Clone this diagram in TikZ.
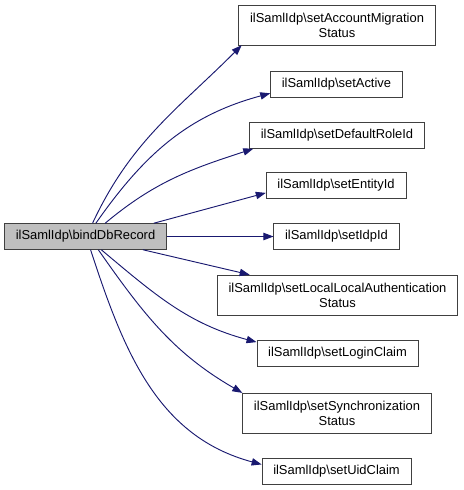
\documentclass[tikz,border=0pt]{standalone}
\usepackage{fontspec}
\setmainfont{Liberation Sans}
\usetikzlibrary{arrows.meta}

\definecolor{edgeblue}{HTML}{191970}
\definecolor{rootgray}{HTML}{BFBFBF}
\newcommand{\idp}{ilSamlIdp\textbackslash}

\tikzset{
  fn/.style={draw=black!75, fill=white, font=\fontsize{9.7}{11.25}\selectfont,
    inner xsep=8.5pt, inner ysep=1pt, minimum height=19.5pt, align=center},
  fntwo/.style={fn, minimum height=30pt},
  call/.style={edgeblue, line width=0.7pt, -{Triangle[length=7.5pt,width=5.5pt]}}
}

\begin{document}
\begin{tikzpicture}[x=0.75pt, y=-0.75pt]
    \useasboundingbox (0,0) rectangle (464,490);

    \node[fn, fill=rootgray] (bind) at (85.5,236.5) {\idp bindDbRecord};

    \node[fntwo] (acct)   at (337,25)    {\idp setAccountMigration\\Status};
    \node[fn]    (active) at (336.5,84)  {\idp setActive};
    \node[fn]    (role)   at (337,135.5) {\idp setDefaultRoleId};
    \node[fn]    (entity) at (336,185.5) {\idp setEntityId};
    \node[fn]    (idpid)  at (336.5,236.5) {\idp setIdpId};
    \node[fntwo] (local)  at (337.5,295) {\idp setLocalLocalAuthentication\\Status};
    \node[fn]    (login)  at (337.5,353.5) {\idp setLoginClaim};
    \node[fntwo] (sync)   at (337,413)   {\idp setSynchronization\\Status};
    \node[fn]    (uid)    at (336.5,471) {\idp setUidClaim};

    % calls
    \draw[call] (bind.62)  to[out=65, in=225] (acct.192);
    \draw[call] (bind.52)  to[out=55, in=195] (active.188);
    \draw[call] (bind.34)  to[out=40, in=198] (role.189);
    \draw[call] (bind.11)  -- (entity.186);
    \draw[call] (bind.east) -- (idpid.west);
    \draw[call] (bind.-13) -- (local.167);
    \draw[call] (bind.-40) to[out=-40, in=165] (login.172);
    \draw[call] (bind.-46) to[out=-55, in=150] (sync.168);
    \draw[call] (bind.-69) to[out=-72, in=165] (uid.175.5);
\end{tikzpicture}
\end{document}
